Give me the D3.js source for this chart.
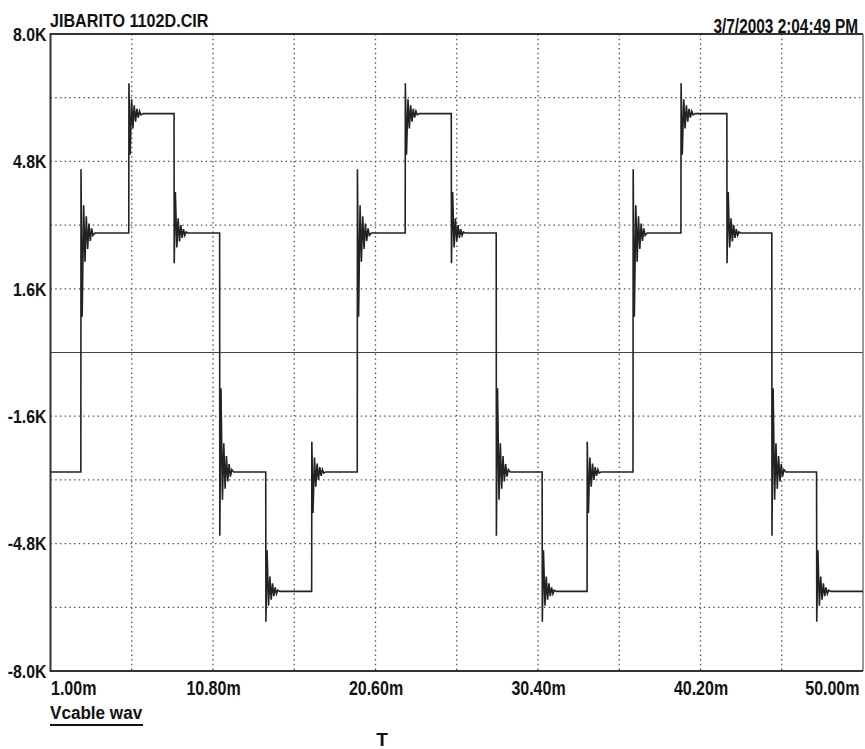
<!DOCTYPE html>
<html>
<head>
<meta charset="utf-8">
<script src="https://cdn.jsdelivr.net/npm/d3@7"></script>
<style>
  html, body { margin: 0; padding: 0; background: #fff; }
  svg text { font-family: "Liberation Sans Narrow", "Arial Narrow", "Liberation Sans", sans-serif; font-weight: bold; fill: #111; }
</style>
</head>
<body>
<svg id="chart" width="865" height="749"></svg>
<script>
// Switching instants of the staircase voltage (ms) and the level reached after each (kV)
const edgeTimes = [2.83, 5.72, 8.45, 11.2, 13.98, 16.75, 19.5, 22.39, 25.17, 27.88, 30.65, 33.36, 36.13, 39.02, 41.79, 44.5, 47.2];
const stepLevels = [3, 6, 3, -3, -6, -3, 3, 6, 3, -3, -6, -3, 3, 6, 3, -3, -6];
const startLevel = -3;

// Ringing after each edge: instants after the edge (ms) and the swing of each extremum (kV)
const ringTimes = [0.01, 0.08, 0.17, 0.25, 0.33, 0.41, 0.49, 0.57, 0.65, 0.73];
const ringBigStep = [1.6, -2.1, 0.7, -0.72, 0.42, -0.4, 0.24, -0.2, 0.12, -0.06];   // 6 kV edges
const ringSmallStep = [0.76, -1.03, 0.36, -0.37, 0.21, -0.2, 0.12, -0.1, 0.06, -0.03]; // 3 kV edges
const settleTime = 0.85;

// Axis ticks
const yTickValues = [8, 4.8, 1.6, -1.6, -4.8, -8];
const yTickLabels = ["8.0K", "4.8K", "1.6K", "-1.6K", "-4.8K", "-8.0K"];
const yGridValues = [6.4, 4.8, 3.2, 1.6, -1.6, -3.2, -4.8, -6.4];
const xTickValues = [1, 10.8, 20.6, 30.4, 40.2, 50];
const xTickLabels = ["1.00m", "10.80m", "20.60m", "30.40m", "40.20m", "50.00m"];
const xGridValues = [5.9, 10.8, 15.7, 20.6, 25.5, 30.4, 35.3, 40.2, 45.1];

const svg = d3.select("#chart");
const plotL = 50.5, plotR = 863, plotT = 34, plotB = 671;
const x = d3.scaleLinear().domain([1, 50]).range([plotL, plotR]);
const y = d3.scaleLinear().domain([-8, 8]).range([plotB, plotT]);

// Condensed text: place at (tx, ty) and squeeze horizontally about the anchor
function condensedText(parent, tx, ty, k) {
  return parent.append("text").attr("transform", `translate(${tx},${ty}) scale(${k},1)`);
}

// Dotted grid
const grid = svg.append("g").attr("stroke", "#555").attr("stroke-width", 1.3).attr("stroke-dasharray", "1.5,3.2");
grid.selectAll("line.h").data(yGridValues).join("line").attr("class", "h")
  .attr("x1", plotL).attr("x2", plotR).attr("y1", d => y(d)).attr("y2", d => y(d));
grid.selectAll("line.v").data(xGridValues).join("line").attr("class", "v")
  .attr("x1", d => x(d)).attr("x2", d => x(d)).attr("y1", plotT).attr("y2", plotB);

// Zero line
svg.append("line").attr("x1", plotL).attr("x2", plotR).attr("y1", y(0)).attr("y2", y(0))
  .attr("stroke", "#444").attr("stroke-width", 1.2);

// Frame
svg.append("line").attr("x1", plotL).attr("x2", plotR).attr("y1", plotT).attr("y2", plotT).attr("stroke", "#333").attr("stroke-width", 2);
svg.append("line").attr("x1", plotR).attr("x2", plotR).attr("y1", plotT).attr("y2", plotB).attr("stroke", "#555").attr("stroke-width", 1.2);
svg.append("line").attr("x1", plotL).attr("x2", plotR).attr("y1", plotB).attr("y2", plotB).attr("stroke", "#333").attr("stroke-width", 2);
svg.append("line").attr("x1", plotL).attr("x2", plotL).attr("y1", plotT - 1).attr("y2", plotB + 1).attr("stroke", "#333").attr("stroke-width", 2);

// Waveform points
const pts = [[1, startLevel]];
let prev = startLevel;
edgeTimes.forEach((t, i) => {
  const lvl = stepLevels[i];
  const dir = Math.sign(lvl - prev);
  const ring = Math.abs(lvl - prev) > 4 ? ringBigStep : ringSmallStep;
  pts.push([t, prev]);
  ringTimes.forEach((dt, k) => pts.push([t + dt, lvl + dir * ring[k]]));
  pts.push([t + settleTime, lvl]);
  prev = lvl;
});
pts.push([50, prev]);

svg.append("path").datum(pts)
  .attr("fill", "none").attr("stroke", "#222").attr("stroke-width", 1.6).attr("stroke-linejoin", "miter")
  .attr("d", d3.line().x(d => x(d[0])).y(d => y(d[1])));

// Y axis labels
const yAxis = d3.axisLeft(y).tickValues(yTickValues).tickSize(0).tickPadding(3)
  .tickFormat((d, i) => yTickLabels[i]);
const ya = svg.append("g").attr("transform", `translate(${plotL - 1},0)`).call(yAxis);
ya.select(".domain").remove();
ya.selectAll("text").attr("font-size", 18).attr("font-family", null).attr("fill", "#111").attr("dy", "0.35em")
  .attr("x", 0).attr("transform", "translate(-3,0) scale(0.88,1)");

// X axis labels
const lastX = xTickValues.length - 1;
const xAxis = d3.axisBottom(x).tickValues(xTickValues).tickSize(0).tickPadding(10)
  .tickFormat((d, i) => xTickLabels[i]);
const xa = svg.append("g").attr("transform", `translate(0,${plotB})`).call(xAxis);
xa.select(".domain").remove();
xa.selectAll("text").attr("font-size", 20).attr("font-family", null).attr("fill", "#111")
  .attr("text-anchor", (d, i) => i === 0 ? "start" : (i === lastX ? "end" : "middle"))
  .attr("transform", (d, i) => `translate(${i === lastX ? -4 : 0},0) scale(0.8,1)`);

// Titles
condensedText(svg, 50, 27, 0.85).attr("font-size", 19).text("JIBARITO 1102D.CIR");
condensedText(svg, 858, 33, 0.77).attr("font-size", 20).attr("text-anchor", "end").text("3/7/2003 2:04:49 PM");
condensedText(svg, 50, 719, 0.9).attr("font-size", 19).text("Vcable wav");
svg.append("line").attr("x1", 50).attr("x2", 143).attr("y1", 725).attr("y2", 725).attr("stroke", "#111").attr("stroke-width", 2);
svg.append("text").attr("x", 382).attr("y", 746).attr("font-size", 19).attr("text-anchor", "middle").text("T");
</script>
</body>
</html>
